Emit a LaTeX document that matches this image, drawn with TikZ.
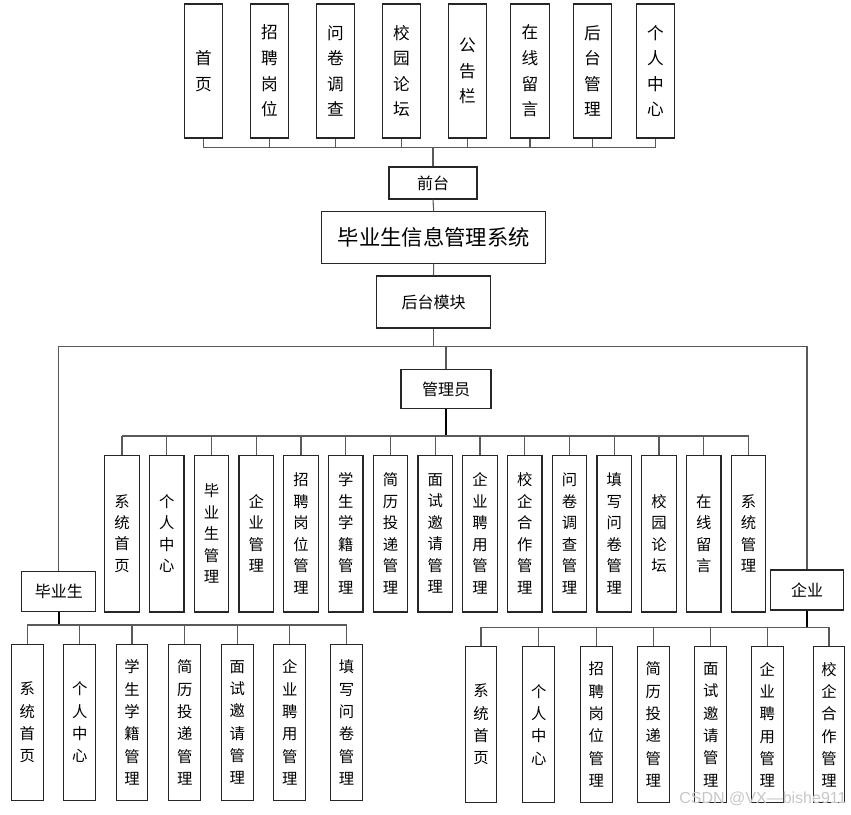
\documentclass[tikz,border=0pt]{standalone}
\usepackage{fontspec}
\setmainfont{Noto Sans CJK SC}
\setsansfont{Liberation Sans}

\begin{document}
\begin{tikzpicture}[x=0.75pt, y=-0.75pt,
    box/.style={draw=black!85, line width=0.8pt, fill=white, inner sep=0pt, align=center},
    topbox/.style={box, minimum width=28.9pt, minimum height=100.5pt, font=\fontsize{12.5}{19.2}\selectfont},
    adminbox/.style={box, minimum width=25.9pt, minimum height=117.7pt, font=\fontsize{11.5}{16.1}\selectfont},
    userbox/.style={box, minimum width=23.8pt, minimum height=117.3pt, font=\fontsize{11.5}{16.75}\selectfont},
    rolebox/.style={box, minimum width=55.3pt, minimum height=30pt, font=\fontsize{12}{14}\selectfont},
    link/.style={draw=black!65, line width=0.8pt},
    drop/.style={draw=black, line width=1.3pt}]
  \useasboundingbox (0,0) rectangle (851,815);

  % Nodes
  \foreach \n/\x/\txt in {1/203.5/{首\\页}, 2/269.5/{招\\聘\\岗\\位}, 3/335.5/{问\\卷\\调\\查},
      4/401.5/{校\\园\\论\\坛}, 5/467.5/{公\\告\\栏}, 6/530/{在\\线\\留\\言},
      7/592.5/{后\\台\\管\\理}, 8/655.5/{个\\人\\中\\心}}
    \node[topbox] (t\n) at (\x,71) {\txt};
  \node[box, minimum width=66pt, minimum height=24pt, font=\fontsize{12}{14}\selectfont] (front) at (433,183) {前台};
  \node[box, minimum width=168pt, minimum height=38.5pt, font=\fontsize{16}{18}\selectfont] (sys) at (433.7,237.5) {毕业生信息管理系统};
  \node[box, minimum width=86pt, minimum height=39pt, font=\fontsize{12}{14}\selectfont] (back) at (433.5,302) {后台模块};
  \node[box, minimum width=67.5pt, minimum height=29pt, font=\fontsize{12}{14}\selectfont] (admin) at (446,389) {管理员};
  \node[rolebox] (grad) at (58.8,591.7) {毕业生};
  \node[rolebox] (corp) at (807,590) {企业};

  \foreach \n/\txt in {1/{系\\统\\首\\页}, 2/{个\\人\\中\\心}, 3/{毕\\业\\生\\管\\理}, 4/{企\\业\\管\\理},
      5/{招\\聘\\岗\\位\\管\\理}, 6/{学\\生\\学\\籍\\管\\理}, 7/{简\\历\\投\\递\\管\\理},
      8/{面\\试\\邀\\请\\管\\理}, 9/{企\\业\\聘\\用\\管\\理}, 10/{校\\企\\合\\作\\管\\理},
      11/{问\\卷\\调\\查\\管\\理}, 12/{填\\写\\问\\卷\\管\\理}, 13/{校\\园\\论\\坛},
      14/{在\\线\\留\\言}, 15/{系\\统\\管\\理}}
    \node[adminbox] (a\n) at ({122+44.75*(\n-1)},533.5) {\txt};

  \foreach \n/\x/\txt in {1/27.2/{系\\统\\首\\页}, 2/79.7/{个\\人\\中\\心}, 3/132/{学\\生\\学\\籍\\管\\理},
      4/184.7/{简\\历\\投\\递\\管\\理}, 5/237.2/{面\\试\\邀\\请\\管\\理}, 6/289.7/{企\\业\\聘\\用\\管\\理},
      7/346.5/{填\\写\\问\\卷\\管\\理}}
    \node[userbox] (g\n) at (\x,722.5) {\txt};

  \foreach \n/\x/\txt in {1/481/{系\\统\\首\\页}, 2/538.7/{个\\人\\中\\心}, 3/596.2/{招\\聘\\岗\\位\\管\\理},
      4/653.2/{简\\历\\投\\递\\管\\理}, 5/710.7/{面\\试\\邀\\请\\管\\理}, 6/767.3/{企\\业\\聘\\用\\管\\理},
      7/829/{校\\企\\合\\作\\管\\理}}
    \node[userbox] (c\n) at (\x,724.7) {\txt};

  \node[font=\sffamily\fontsize{12}{12}\selectfont, text=black!22] (mark) at (763,799) {CSDN @VX—bishe911};

  % Arrows
  \coordinate (topbus) at (0,147.7);
  \coordinate (midbus) at (0,346.7);
  \coordinate (adminbus) at (0,436);
  \coordinate (gradbus) at (0,625);
  \coordinate (corpbus) at (0,627.3);

  \foreach \n in {1,...,8}
    \draw[link] (t\n.south) -- (t\n.south |- topbus);
  \draw[link] (t1.south |- topbus) -- (t8.south |- topbus);
  \draw[link] (front.north) -- (front.north |- topbus);
  \draw[link] (front.south) -- (sys.north);
  \draw[link] (sys.south) -- (back.north);

  \draw[link] (back.south) -- (back.south |- midbus);
  \draw[link] (grad.north) -- (grad.north |- midbus) -- (corp.north |- midbus) -- (corp.north);
  \draw[link] (admin.north) -- (admin.north |- midbus);

  \draw[drop] (admin.south) -- (admin.south |- adminbus);
  \draw[link] (a1.north |- adminbus) -- (a15.north |- adminbus);
  \foreach \n in {1,...,15}
    \draw[link] (a\n.north) -- (a\n.north |- adminbus);

  \draw[drop] (grad.south) -- (grad.south |- gradbus);
  \draw[link] (g1.north |- gradbus) -- (g7.north |- gradbus);
  \foreach \n in {1,...,7}
    \draw[link] (g\n.north) -- (g\n.north |- gradbus);

  \draw[drop] (corp.south) -- (corp.south |- corpbus);
  \draw[link] (c1.north |- corpbus) -- (c7.north |- corpbus);
  \foreach \n in {1,...,7}
    \draw[link] (c\n.north) -- (c\n.north |- corpbus);
\end{tikzpicture}
\end{document}
